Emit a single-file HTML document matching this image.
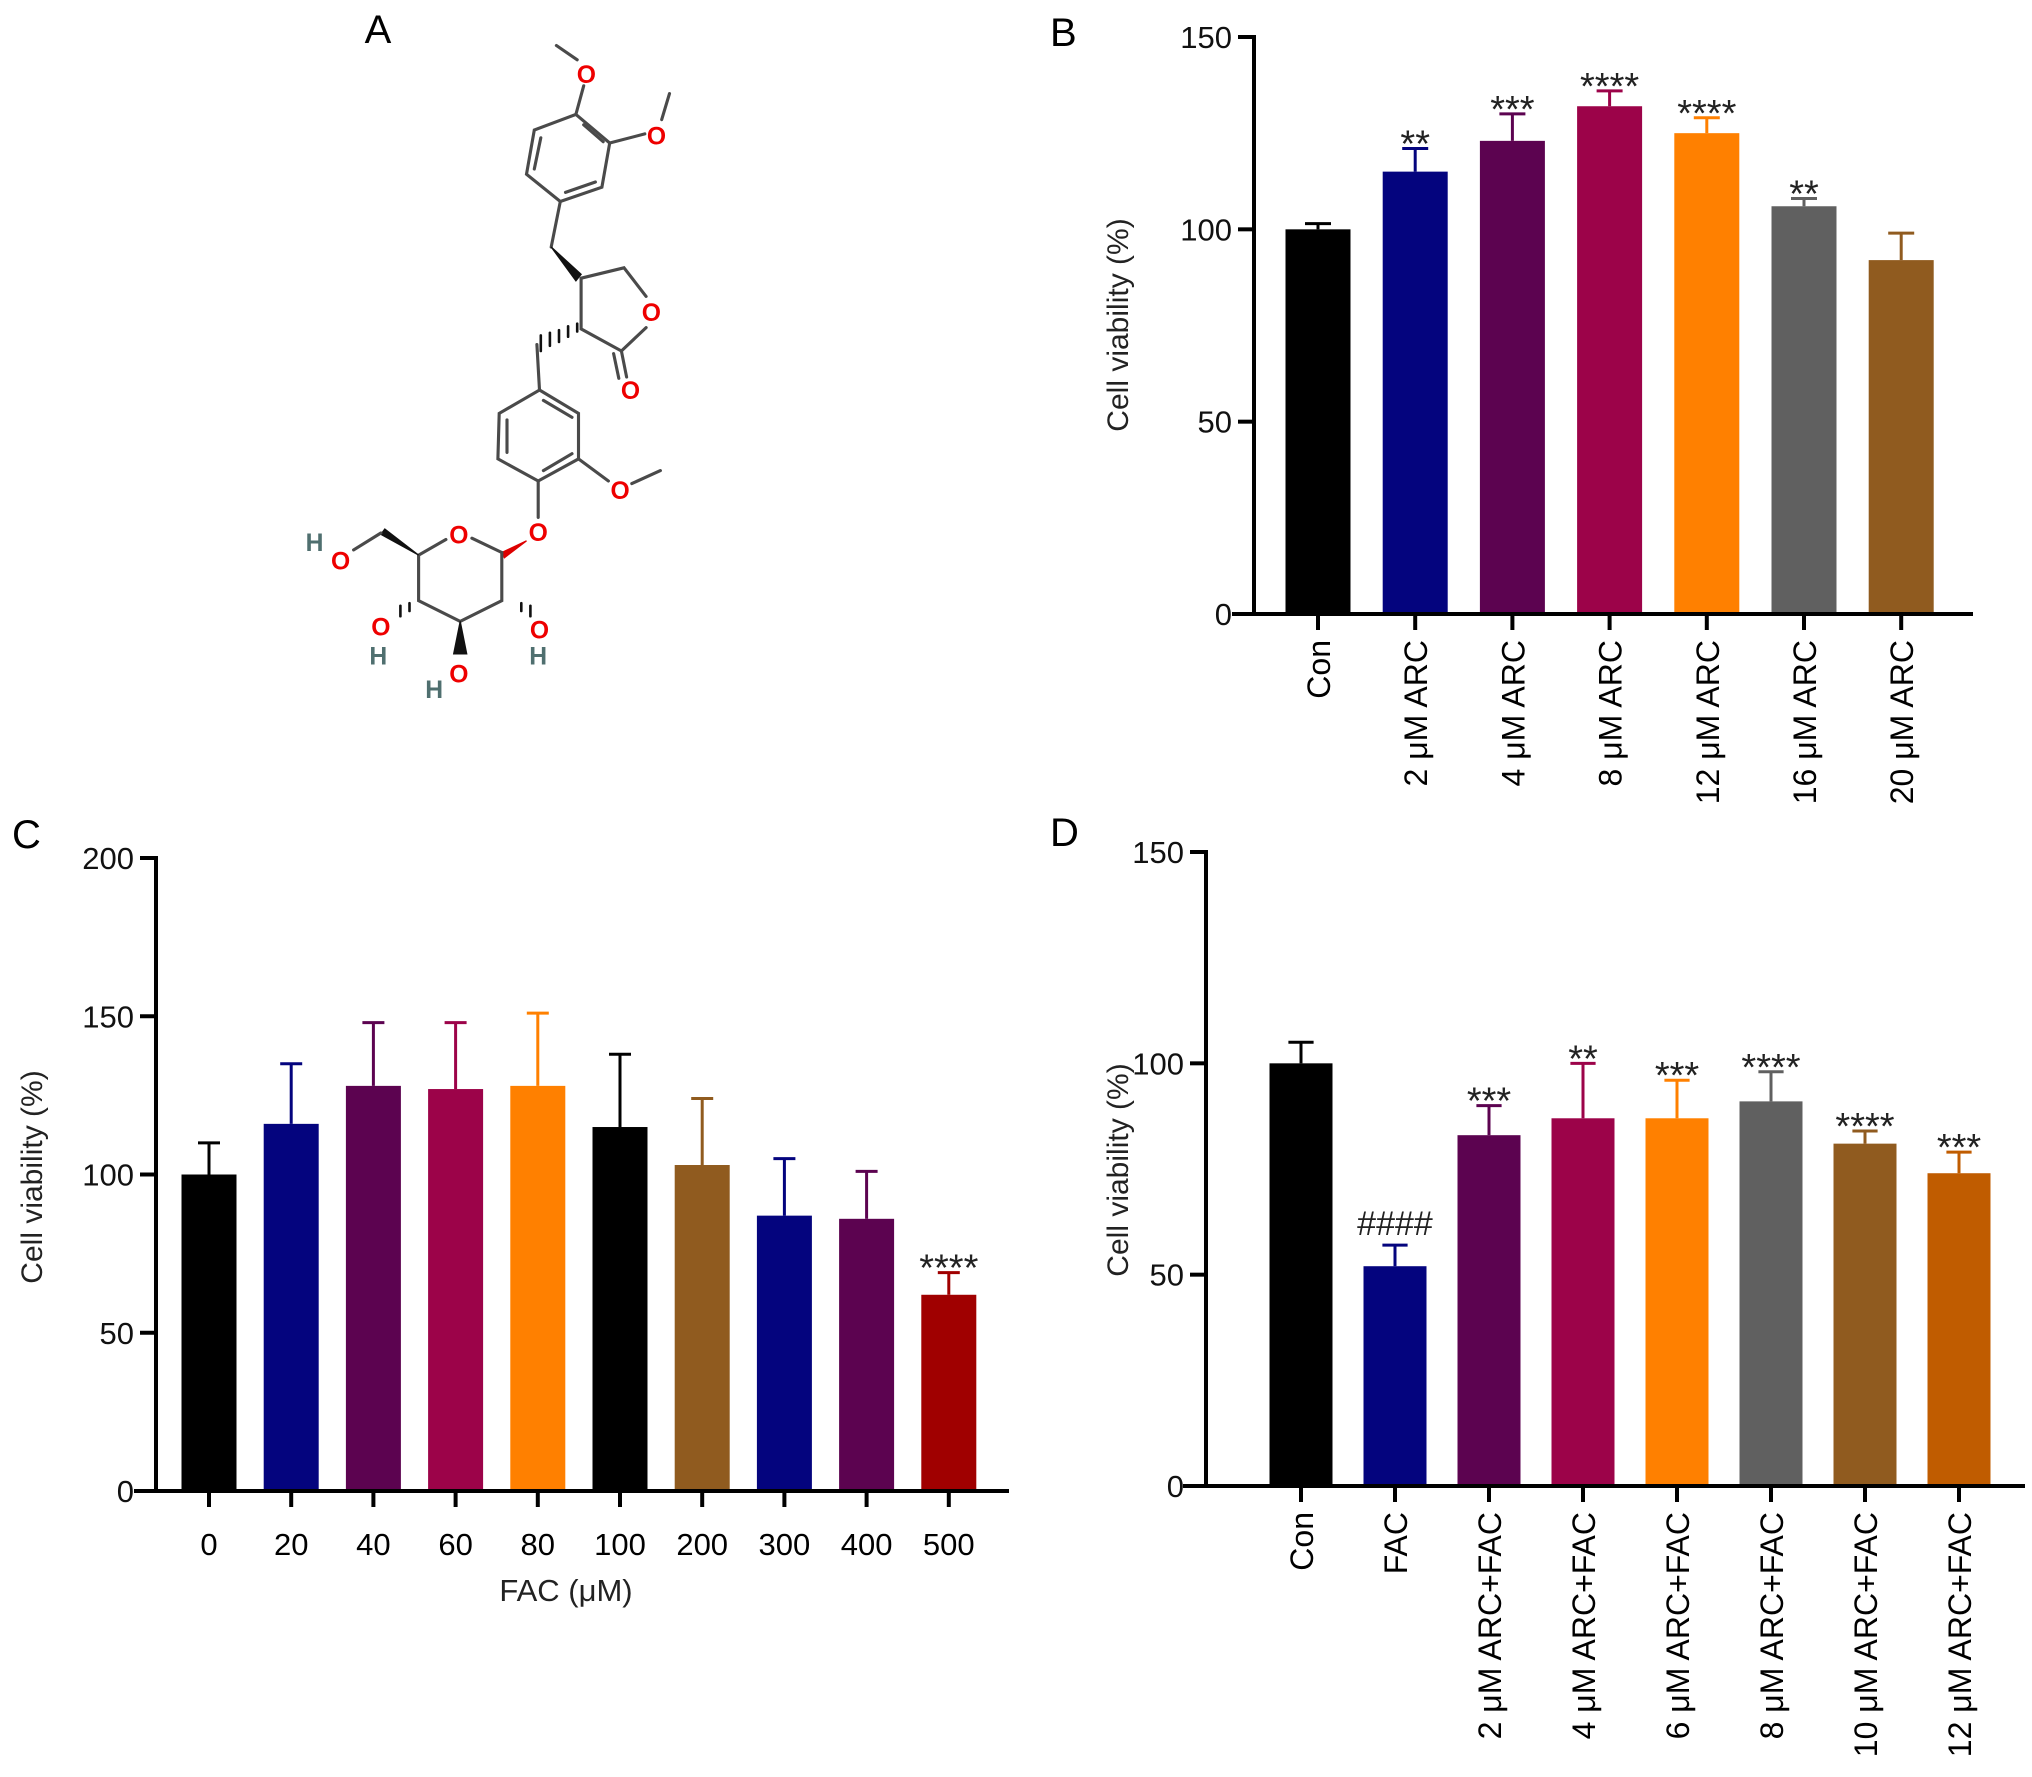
<!DOCTYPE html>
<html><head><meta charset="utf-8">
<style>
html,body{margin:0;padding:0;background:#fff;}
svg{display:block;font-family:"Liberation Sans",Arial,sans-serif;}
</style></head>
<body>
<svg id="fig" width="2032" height="1777" viewBox="0 0 2032 1777" xmlns="http://www.w3.org/2000/svg">
  <rect width="2032" height="1777" fill="#fff"/>
  <g>
    <text x="378" y="43" font-size="40" text-anchor="middle">A</text>
    <g transform="scale(1.3)" stroke="#4a4a4a" stroke-width="2.4" fill="none" stroke-linecap="round">
      <line x1="428" y1="35" x2="444" y2="46"/>
      <line x1="449" y1="66" x2="443" y2="88"/>
      <polygon points="443,88 469,110 463,144 431,155 405,134 411,100"/>
      <line x1="416" y1="106" x2="411" y2="130"/>
      <line x1="435" y1="148" x2="458" y2="140"/>
      <line x1="449" y1="96" x2="464" y2="109"/>
      <line x1="469" y1="110" x2="496" y2="103"/>
      <line x1="509" y1="92" x2="515" y2="72"/>
      <line x1="431" y1="155" x2="424" y2="190"/>
      <polygon points="424,190 447,211 443,216" fill="#111" stroke="#111" stroke-width="1"/>
      <polyline points="447,214 480,206 497,228"/>
      <polyline points="497,252 478,270 447,253 447,214"/>
      <line x1="478" y1="270" x2="482" y2="290"/>
      <line x1="472" y1="272" x2="476" y2="291"/>
      <g stroke="#111" stroke-width="2">
        <line x1="444" y1="249" x2="444" y2="255"/>
        <line x1="437" y1="251" x2="437" y2="259"/>
        <line x1="430" y1="254" x2="430" y2="263"/>
        <line x1="423" y1="256" x2="423" y2="266"/>
        <line x1="416" y1="258" x2="416" y2="270"/>
      </g>
      <line x1="413" y1="265" x2="415" y2="300"/>
      <polygon points="415,300 445,318 445,353 414,370 383,353 384,318"/>
      <line x1="390" y1="323" x2="390" y2="348"/>
      <line x1="418" y1="308" x2="440" y2="321"/>
      <line x1="418" y1="362" x2="440" y2="349"/>
      <line x1="445" y1="353" x2="468" y2="370"/>
      <line x1="486" y1="372" x2="508" y2="362"/>
      <line x1="414" y1="370" x2="414" y2="398"/>
      <polygon points="405,416 386,425 388,429" fill="#d00" stroke="#d00" stroke-width="1"/>
      <polyline points="386,425 386,462 354,478 322,462 322,427 343,415"/>
      <line x1="363" y1="414" x2="386" y2="425"/>
      <polygon points="322,427 293,411 296,407" fill="#111" stroke="#111" stroke-width="1"/>
      <line x1="293" y1="410" x2="272" y2="423"/>
      <g stroke="#111" stroke-width="2"><line x1="315" y1="464" x2="315" y2="470"/><line x1="308" y1="466" x2="308" y2="474"/><line x1="401" y1="464" x2="401" y2="470"/><line x1="408" y1="466" x2="408" y2="474"/></g>
      <polygon points="354,478 349,503 359,503" fill="#111" stroke="#111" stroke-width="1"/>
    </g>
    <g transform="scale(1.3)" font-weight="bold" font-size="19" text-anchor="middle">
      <text x="451" y="64" fill="#e00">O</text>
      <text x="505" y="111" fill="#e00">O</text>
      <text x="501" y="247" fill="#e00">O</text>
      <text x="485" y="307" fill="#e00">O</text>
      <text x="477" y="384" fill="#e00">O</text>
      <text x="414" y="416" fill="#e00">O</text>
      <text x="353" y="418" fill="#e00">O</text>
      <text x="262" y="438" fill="#e00">O</text>
      <text x="242" y="424" fill="#4f6f6f">H</text>
      <text x="293" y="489" fill="#e00">O</text>
      <text x="291" y="511" fill="#4f6f6f">H</text>
      <text x="353" y="525" fill="#e00">O</text>
      <text x="334" y="537" fill="#4f6f6f">H</text>
      <text x="415" y="491" fill="#e00">O</text>
      <text x="414" y="511" fill="#4f6f6f">H</text>
    </g>
  </g>
  <g id="chartB"></g>
  <g id="chartC"></g>
  <g id="chartD"></g>
</svg>
<script>
// Panel B data
const bCategories = ["Con","2 \u03bcM ARC","4 \u03bcM ARC","8 \u03bcM ARC","12 \u03bcM ARC","16 \u03bcM ARC","20 \u03bcM ARC"];
const bValues = [100,115,123,132,125,106,92];
const bErrors = [1.5,6,7,4,4,2,7];
const bSig = ["","**","***","****","****","**",""];
const bTicks = [0,50,100,150];
// Panel C data
const cCategories = ["0","20","40","60","80","100","200","300","400","500"];
const cValues = [100,116,128,127,128,115,103,87,86,62];
const cErrors = [10,19,20,21,23,23,21,18,15,7];
const cSig = ["","","","","","","","","","****"];
const cTicks = [0,50,100,150,200];
// Panel D data
const dCategories = ["Con","FAC","2 \u03bcM ARC+FAC","4 \u03bcM ARC+FAC","6 \u03bcM ARC+FAC","8 \u03bcM ARC+FAC","10 \u03bcM ARC+FAC","12 \u03bcM ARC+FAC"];
const dValues = [100,52,83,87,87,91,81,74];
const dErrors = [5,5,7,13,9,7,3,5];
const dSig = ["","####","***","**","***","****","****","***"];
const dTicks = [0,50,100,150];

const NS = "http://www.w3.org/2000/svg";
function mk(parent, tag, attrs, text){
  const e = document.createElementNS(NS, tag);
  for (const k in attrs) e.setAttribute(k, attrs[k]);
  if (text !== undefined) e.textContent = text;
  parent.appendChild(e);
  return e;
}

function drawChart(gid, cfg, cats, vals, errs, sig, ticks, colors){
  const g = document.getElementById(gid);
  const yScale = v => cfg.y0 - (v - cfg.ymin) / (cfg.ymax - cfg.ymin) * (cfg.y0 - cfg.ytop);
  const xScale = i => cfg.x0c + i * cfg.step;
  const lab = mk(g, "text", {x: cfg.lx, y: cfg.ly, "font-size": 40}, cfg.letter);
  
  
  cats.forEach((c, i) => {
    const cx = xScale(i), v = vals[i], col = colors[i];
    const top = yScale(v), eTop = yScale(v + errs[i]);
    const eb = mk(g, "line", {x1: cx, x2: cx, y1: top, y2: eTop, stroke: col, "stroke-width": 3});
    
    
    const cap = mk(g, "line", {x1: cx - cfg.bw * 0.2, x2: cx + cfg.bw * 0.2, y1: eTop, y2: eTop, stroke: col, "stroke-width": 3});
    
    
    const r = mk(g, "rect", {x: cx - cfg.bw / 2, y: top, width: cfg.bw, height: cfg.y0 - top, fill: col});
    
    
    if (sig[i]) {
      const isHash = sig[i][0] === "#";
      const s = mk(g, "text", {x: cx, y: eTop - (isHash ? 10 : -8), "font-size": isHash ? 34 : 38, "text-anchor": "middle", fill: "#222"}, sig[i]);
      
      
    }
    const tk = mk(g, "line", {x1: cx, x2: cx, y1: cfg.y0, y2: cfg.y0 + 16, stroke: "#000", "stroke-width": 4});
    
    
    let t;
    if (cfg.rot) {
      t = mk(g, "text", {x: 0, y: 0, "font-size": 32, "text-anchor": "end", transform: "translate(" + (cx + 12) + "," + cfg.labTop + ") rotate(-90)"}, c);
    } else {
      t = mk(g, "text", {x: cx, y: cfg.labTop, "font-size": 31, "text-anchor": "middle"}, c);
    }
    
    
  });
  const ya = mk(g, "line", {x1: cfg.yax, x2: cfg.yax, y1: cfg.ytop - 2, y2: cfg.y0 + 2, stroke: "#000", "stroke-width": 4});
  
  
  const xa = mk(g, "line", {x1: cfg.xaL, x2: cfg.xaR, y1: cfg.y0, y2: cfg.y0, stroke: "#000", "stroke-width": 4});
  
  
  ticks.forEach(tv => {
    const y = yScale(tv);
    const tl = mk(g, "line", {x1: cfg.yax - 16, x2: cfg.yax, y1: y, y2: y, stroke: "#000", "stroke-width": 4});
    
    
    const tt = mk(g, "text", {x: cfg.yax - 22, y: y + 11, "font-size": 31, "text-anchor": "end", fill: "#111"}, tv);
    
    
  });
  const yt = mk(g, "text", {x: 0, y: 0, "font-size": 30, "text-anchor": "middle", fill: "#222", transform: "translate(" + cfg.ytx + "," + cfg.yty + ") rotate(-90)"}, "Cell viability (%)");
  
  
  if (cfg.xtitle) {
    const xt = mk(g, "text", {x: cfg.xtx, y: cfg.xty, "font-size": 31, "text-anchor": "middle", fill: "#222"}, cfg.xtitle);
    
    
  }
}

drawChart("chartB",
  {letter: "B", lx: 1050, ly: 46, ymin: 0, ymax: 150, y0: 614, ytop: 37, yax: 1254, xaL: 1232, xaR: 1973,
   x0c: 1318, step: 97.2, bw: 65, rot: true, labTop: 640, ytx: 1128, yty: 325},
  bCategories, bValues, bErrors, bSig, bTicks,
  ["#000000","#04047e","#5c0350","#9c0349","#ff8000","#606060","#905b1f"]);

drawChart("chartC",
  {letter: "C", lx: 12, ly: 848, ymin: 0, ymax: 200, y0: 1491, ytop: 858, yax: 156, xaL: 134, xaR: 1009,
   x0c: 209, step: 82.2, bw: 55, rot: false, labTop: 1555, ytx: 42, yty: 1177,
   xtitle: "FAC (\u03bcM)", xtx: 566, xty: 1601},
  cCategories, cValues, cErrors, cSig, cTicks,
  ["#000000","#04047e","#5c0350","#9c0349","#ff8000","#000000","#905b1f","#04047e","#5c0350","#a00000"]);

drawChart("chartD",
  {letter: "D", lx: 1050, ly: 846, ymin: 0, ymax: 150, y0: 1486, ytop: 852, yax: 1206, xaL: 1183, xaR: 2025,
   x0c: 1301, step: 94, bw: 63, rot: true, labTop: 1512, ytx: 1128, yty: 1170},
  dCategories, dValues, dErrors, dSig, dTicks,
  ["#000000","#04047e","#5c0350","#9c0349","#ff8000","#606060","#905b1f","#c05c00"]);
</script>
</body></html>
